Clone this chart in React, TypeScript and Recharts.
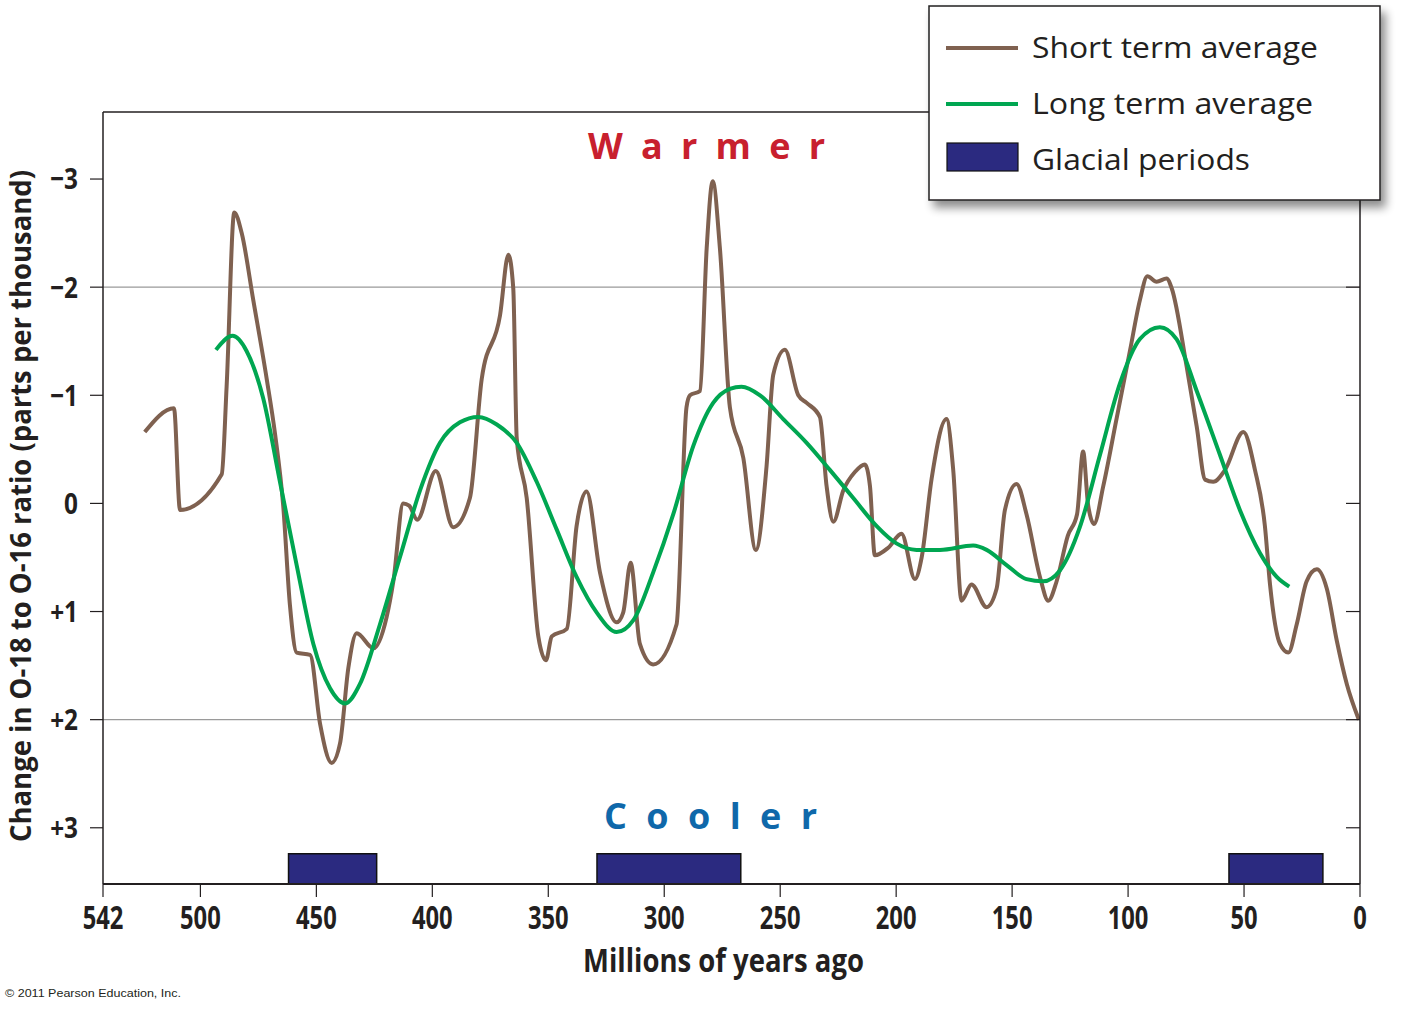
import React from "react";
import {
  LineChart,
  Line,
  XAxis,
  YAxis,
  ReferenceLine,
  ReferenceArea,
} from "recharts";

// ---------- data ----------
const shortAge = [
  524, 511.4, 508.8, 490.8, 488.7, 485.4, 482.2, 477.2, 471.4, 467.8, 464.3, 461.4, 458.5, 452.7,
  448.4, 443.4, 439.8, 436.2, 432.6, 425.4, 419.7, 416.8, 412.5, 410, 406.5, 398.5, 391, 383.8,
  378.7, 370.8, 367.2, 365.1, 363.6, 359.3, 354.3, 351, 348.5, 342, 337.8, 333.5, 327.7, 320.5,
  317.7, 314.5, 310.5, 304.8, 294.7, 290.4, 288.9, 284.6, 281.7, 279.1, 276, 271.7, 265.9, 260.5,
  255.9, 253, 248, 242.2, 238.6, 232.9, 230, 227.1, 222.8, 217.8, 213.5, 211.3, 209.2, 203.4,
  197.7, 191.9, 189, 184.7, 178.3, 175.4, 171.8, 167.5, 161, 156.7, 153.1, 148.1, 143.8, 138,
  134.4, 130.8, 126, 122, 119.4, 117.2, 114.7, 110.7, 105, 99.2, 94.9, 91.7, 87.7, 83.4, 81.2,
  74.7, 70.4, 66.8, 63.3, 58.2, 50.3, 45.3, 41, 38.8, 34.5, 30.9, 27.3, 23, 18.6, 14.3, 10, 5.7, 0.5,
];
const shortValue = [
  -0.66, -0.88, 0.06, -0.27, -1.08, -2.69, -2.5, -1.88, -1.15, -0.64, 0.02, 0.94, 1.38, 1.4,
  2.04, 2.4, 2.22, 1.52, 1.2, 1.34, 1.05, 0.72, 0.0, 0.02, 0.15, -0.3, 0.22, -0.05,
  -1.15, -1.74, -2.3, -1.99, -0.6, -0.05, 1.23, 1.45, 1.23, 1.16, 0.21, -0.11, 0.64, 1.1,
  1.01, 0.55, 1.3, 1.49, 1.12, -0.89, -1.0, -1.04, -2.36, -2.98, -2.36, -0.89, -0.42, 0.43,
  -0.34, -1.19, -1.42, -1.0, -0.93, -0.8, -0.16, 0.17, -0.12, -0.29, -0.36, -0.16, 0.48, 0.41,
  0.28, 0.7, 0.5, -0.23, -0.78, -0.31, 0.9, 0.75, 0.96, 0.79, 0.06, -0.18, 0.1, 0.68,
  0.9, 0.72, 0.3, 0.1, -0.48, 0.02, 0.19, -0.16, -0.78, -1.41, -1.88, -2.1, -2.05, -2.08, -1.99,
  -1.26, -0.71, -0.22, -0.2, -0.31, -0.66, -0.31, 0.21, 0.75, 1.3, 1.38, 1.12, 0.72, 0.61, 0.79, 1.27, 1.67, 2.0,
];

const longAge = [
  493.3, 486.1, 480.1, 472.9, 465.7, 458.5, 451.3, 444.1, 437.6, 431.2, 422.6, 414, 405.3, 396.7,
  388.1, 380.2, 372.2, 363.6, 355, 346.4, 337.8, 329.1, 320.5, 313.3, 304.8, 296.1, 287.5, 278.9,
  271.7, 266.7, 258.7, 248.7, 238.6, 228.6, 218.5, 208.4, 199.9, 191.2, 181.1, 166.8, 161, 152.4,
  143.8, 136.6, 129.4, 120.8, 112.1, 103.5, 94.9, 86.3, 79.1, 70.4, 60.4, 51.8, 43.1, 35.9, 30.5,
];
const longValue = [
  -1.42, -1.55, -1.41, -0.97, -0.2, 0.57, 1.3, 1.71, 1.85, 1.67, 1.12, 0.5, -0.12, -0.56,
  -0.75, -0.8, -0.73, -0.56, -0.2, 0.24, 0.68, 1.01, 1.19, 1.08, 0.64, 0.1, -0.53, -0.93,
  -1.06, -1.08, -1.0, -0.78, -0.56, -0.31, -0.05, 0.21, 0.37, 0.43, 0.43, 0.39, 0.43, 0.57,
  0.7, 0.72, 0.62, 0.22, -0.45, -1.11, -1.52, -1.63, -1.52, -1.04, -0.45, 0.06, 0.46, 0.68, 0.77,
];

const glacialStart = [462, 329, 56.5];
const glacialEnd = [424, 267, 16];

const xTicks = [542, 500, 450, 400, 350, 300, 250, 200, 150, 100, 50, 0];
const yTicks = [-3, -2, -1, 0, 1, 2, 3];
const gridValues = [-2, 2];

const Y_MIN = -3.62;
const Y_MAX = 3.52;
const GLACIAL_TOP = 3.24;

const shortData = shortAge.map((a, i) => ({ age: a, value: shortValue[i] }));
const longData = longAge.map((a, i) => ({ age: a, value: longValue[i] }));

// ---------- styles ----------
const INK = "#231f20";
const BROWN = "#7f6150";
const GREEN = "#00a651";
const NAVY = "#2b2a80";
const FONT = "'Open Sans', 'DejaVu Sans', sans-serif";

const fmtY = (v: number) => (v < 0 ? "\u2212" + Math.abs(v) : v > 0 ? "+" + v : "0");

const YTick = (props: any) => {
  const { x, y, payload } = props;
  return (
    <g transform={`translate(${x},${y}) scale(0.84,1)`}>
      <text
        x={0}
        y={0}
        dy="0.36em"
        textAnchor="end"
        fontFamily={FONT}
        fontWeight={700}
        fontSize={29}
        fill={INK}
      >
        {fmtY(payload.value)}
      </text>
    </g>
  );
};

const XTick = (props: any) => {
  const { x, y, payload } = props;
  return (
    <g transform={`translate(${x},${y + 30}) scale(0.72,1)`}>
      <text
        x={0}
        y={0}
        textAnchor="middle"
        fontFamily={FONT}
        fontWeight={700}
        fontSize={33}
        fill={INK}
      >
        {payload.value}
      </text>
    </g>
  );
};

export default function App() {
  return (
    <div
      style={{
        position: "absolute",
        left: 0,
        top: 0,
        width: 1402,
        height: 1009,
        background: "#ffffff",
        overflow: "hidden",
      }}
    >
      <LineChart
        width={1402}
        height={1009}
        margin={{ top: 112, right: 42, bottom: 65, left: 0 }}
      >
        <XAxis
          dataKey="age"
          type="number"
          domain={[0, 542]}
          reversed
          allowDataOverflow
          ticks={xTicks}
          interval={0}
          height={60}
          tickSize={13}
          tickMargin={2}
          axisLine={{ stroke: INK, strokeWidth: 2 }}
          tickLine={{ stroke: INK, strokeWidth: 1.2 }}
          tick={<XTick />}
        />
        <YAxis
          type="number"
          domain={[Y_MIN, Y_MAX]}
          reversed
          allowDataOverflow
          ticks={yTicks}
          interval={0}
          width={103}
          tickSize={13}
          tickMargin={12}
          axisLine={{ stroke: INK, strokeWidth: 1.5 }}
          tickLine={{ stroke: INK, strokeWidth: 1.2 }}
          tick={<YTick />}
        />
        <YAxis
          yAxisId="right"
          orientation="right"
          type="number"
          domain={[Y_MIN, Y_MAX]}
          reversed
          allowDataOverflow
          ticks={yTicks}
          interval={0}
          width={42}
          mirror
          tickSize={14}
          axisLine={{ stroke: INK, strokeWidth: 1.5 }}
          tickLine={{ stroke: INK, strokeWidth: 1.2 }}
          tick={() => <g />}
        />
        <ReferenceLine y={Y_MIN} stroke={INK} strokeWidth={1.5} />
        {gridValues.map((g) => (
          <ReferenceLine key={g} y={g} stroke="#9a9a9a" strokeWidth={1.2} />
        ))}
        {glacialStart.map((s, i) => (
          <ReferenceArea
            key={s}
            x1={s}
            x2={glacialEnd[i]}
            y1={GLACIAL_TOP}
            y2={Y_MAX}
            fill={NAVY}
            fillOpacity={1}
            stroke="#111111"
            strokeWidth={1.5}
          />
        ))}
        <Line
          data={shortData}
          dataKey="value"
          type="monotone"
          stroke={BROWN}
          strokeWidth={4}
          dot={false}
          isAnimationActive={false}
          name="Short term average"
        />
        <Line
          data={longData}
          dataKey="value"
          type="monotone"
          stroke={GREEN}
          strokeWidth={4}
          dot={false}
          isAnimationActive={false}
          name="Long term average"
        />
      </LineChart>

      <svg
        width={1402}
        height={1009}
        style={{ position: "absolute", left: 0, top: 0, pointerEvents: "none" }}
      >
        <defs>
          <filter id="shadow" x="-10%" y="-10%" width="130%" height="140%">
            <feGaussianBlur in="SourceAlpha" stdDeviation="5" />
            <feOffset dx="5" dy="7" result="blur" />
            <feComponentTransfer>
              <feFuncA type="linear" slope="0.45" />
            </feComponentTransfer>
            <feMerge>
              <feMergeNode />
              <feMergeNode in="SourceGraphic" />
            </feMerge>
          </filter>
        </defs>

        {/* Y axis title */}
        <text
          transform="translate(31,506) rotate(-90)"
          textAnchor="middle"
          fontFamily={FONT}
          fontWeight={700}
          fontSize={28}
          fill={INK}
          textLength={672}
          lengthAdjust="spacingAndGlyphs"
        >
          Change in  O-18 to O-16 ratio (parts per thousand)
        </text>

        {/* X axis title */}
        <text
          x={583}
          y={972}
          fontFamily={FONT}
          fontWeight={700}
          fontSize={32}
          fill={INK}
          textLength={281}
          lengthAdjust="spacingAndGlyphs"
        >
          Millions of years ago
        </text>

        {/* Warmer / Cooler */}
        <text
          x={588}
          y={159}
          fontFamily={FONT}
          fontWeight={700}
          fontSize={36}
          fill="#c8202e"
          textLength={237}
          lengthAdjust="spacing"
        >
          Warmer
        </text>
        <text
          x={604}
          y={829}
          fontFamily={FONT}
          fontWeight={700}
          fontSize={36}
          fill="#0f68aa"
          textLength={213}
          lengthAdjust="spacing"
        >
          Cooler
        </text>

        {/* Legend */}
        <g>
          <rect
            x={929}
            y={6}
            width={451}
            height={194}
            fill="#ffffff"
            stroke={INK}
            strokeWidth={1.5}
            filter="url(#shadow)"
          />
          <line x1={946} x2={1018} y1={48} y2={48} stroke={BROWN} strokeWidth={4} />
          <text x={1032} y={58} fontFamily={FONT} fontSize={29} fill={INK} textLength={286} lengthAdjust="spacingAndGlyphs">
            Short term average
          </text>
          <line x1={946} x2={1018} y1={104} y2={104} stroke={GREEN} strokeWidth={4} />
          <text x={1032} y={114} fontFamily={FONT} fontSize={29} fill={INK} textLength={281} lengthAdjust="spacingAndGlyphs">
            Long term average
          </text>
          <rect x={947} y={143} width={71} height={28} fill={NAVY} stroke="#111111" strokeWidth={1.2} />
          <text x={1032} y={170} fontFamily={FONT} fontSize={29} fill={INK} textLength={218} lengthAdjust="spacingAndGlyphs">
            Glacial periods
          </text>
        </g>

        {/* Copyright */}
        <text
          x={5}
          y={997}
          fontFamily="'Liberation Sans', Arial, sans-serif"
          fontSize={11}
          fill={INK}
          textLength={176}
          lengthAdjust="spacingAndGlyphs"
        >
          © 2011 Pearson Education, Inc.
        </text>
      </svg>
    </div>
  );
}
